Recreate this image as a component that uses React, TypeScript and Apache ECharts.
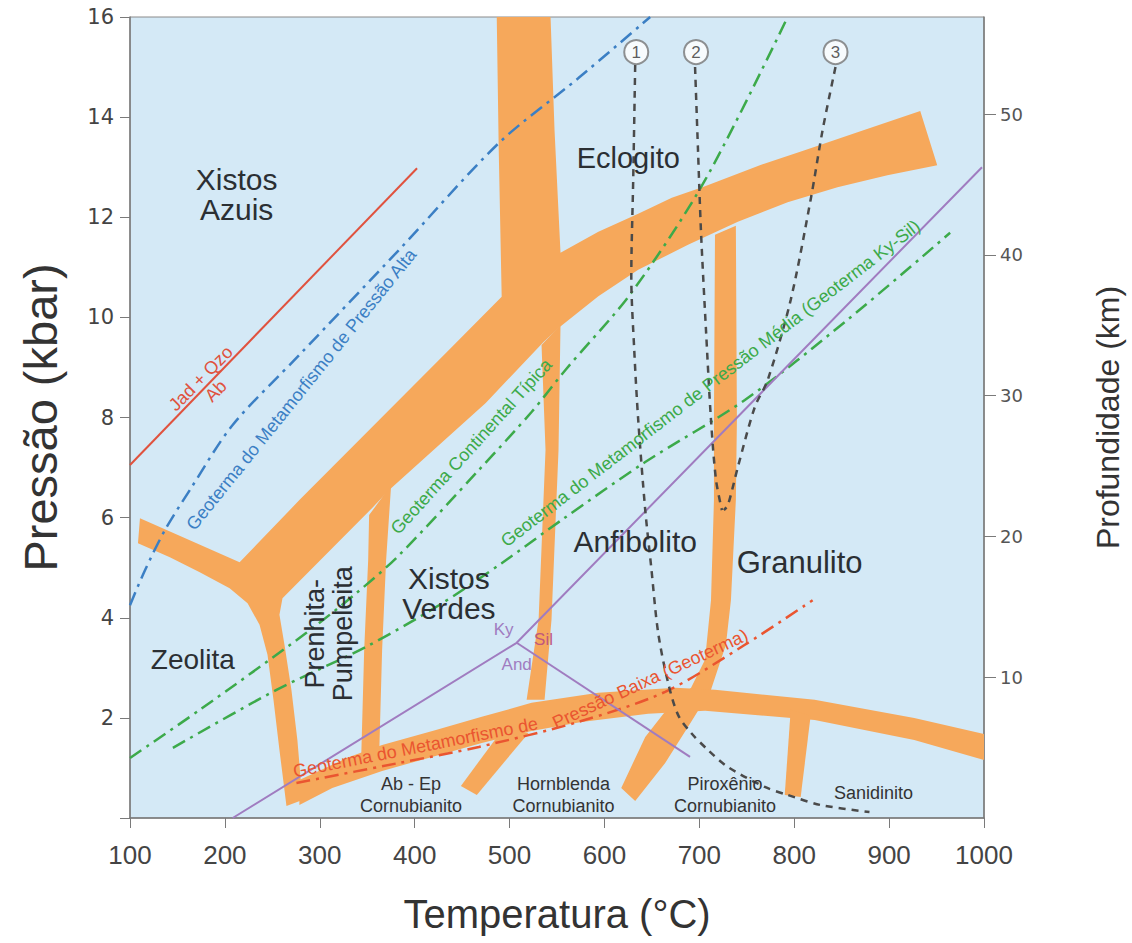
import React, { useEffect, useRef } from "react";
import * as echarts from "echarts";

// ---------- axes ----------
const tempMin = 100;
const tempMax = 1000;
const tempStep = 100;
const pressMin = 0;
const pressMax = 16;
const pressStep = 2;
const depthMax = 56.9;
const depthStep = 10;
const depthTicks = [10, 20, 30, 40, 50];

// ---------- orange facies-boundary bands, [T (°C), P (kbar)] ----------
const mainBand: number[][] = [
  [110.5, 5.99], [215.5, 5.11], [278.5, 6.35], [334.2, 7.41], [439.2, 9.41], [491.7, 10.41],
  [488.6, 13.34], [486.5, 16.0], [543.2, 16.0], [547.4, 13.74], [553.7, 11.29],
  [593.6, 11.71], [635.6, 12.07], [671.0, 12.39], [706.0, 12.62], [763.8, 13.04],
  [811.0, 13.34], [866.7, 13.70], [932.8, 14.12], [950.7, 13.04],
  [898.2, 12.84], [845.6, 12.6], [793.1, 12.3], [740.6, 11.91], [688.1, 11.45],
  [635.6, 10.95], [593.6, 10.42], [551.6, 9.79], [535.8, 9.51],
  [474.9, 8.29], [373.1, 6.55], [355.2, 6.19], [260.7, 4.39],
  [257.5, 4.06], [262.8, 3.46], [270.1, 2.56], [276.4, 1.56], [281.7, 0.36],
  [264.9, 0.24], [257.5, 1.36], [251.2, 2.36], [244.9, 3.26], [236.5, 3.86],
  [223.9, 4.29], [205.0, 4.59], [173.5, 4.91], [142.0, 5.21], [108.4, 5.49],
];
const pumpellyiteBand: number[][] = [
  [352.0, 6.05], [375.2, 6.65], [369.9, 5.15], [365.7, 3.36], [362.6, 1.26],
  [343.6, 1.16], [346.8, 3.36], [351.0, 5.15],
];
const amphiboliteBand: number[][] = [
  [533.7, 9.45], [553.7, 9.85], [551.6, 7.35], [544.2, 3.96], [536.9, 2.36],
  [518.0, 2.36], [530.6, 3.96], [537.9, 7.35],
];
const granuliteBand: number[][] = [
  [716.5, 11.65], [715.4, 7.95], [715.4, 6.35], [712.3, 4.35], [706.0, 3.16],
  [691.3, 2.6], [667.1, 2.2], [643.0, 1.62], [617.7, 0.6], [632.4, 0.34],
  [664.0, 1.1], [691.3, 1.92], [712.3, 2.56], [728.0, 3.46], [733.3, 4.35],
  [738.5, 6.35], [739.6, 7.95], [738.5, 11.83],
];
const contactBand: number[][] = [
  [278.5, 0.76], [331.0, 1.22], [365.7, 1.46], [422.4, 1.76], [470.7, 2.02],
  [523.2, 2.3], [593.6, 2.5], [674.5, 2.6], [716.5, 2.56], [821.5, 2.36],
  [926.5, 2.0], [1000, 1.68], [1000, 1.16], [926.5, 1.56], [821.5, 1.96],
  [706.0, 2.14], [646.1, 2.08], [575.7, 1.92], [523.2, 1.74], [470.7, 1.5],
  [418.2, 1.22], [365.7, 0.94], [313.2, 0.6], [278.5, 0.26],
];
const hornblendeBranch: number[][] = [
  [493.8, 1.8], [520.1, 1.7], [465.5, 0.46], [448.7, 0.64],
];
const sanidiniteBranch: number[][] = [
  [796.3, 2.16], [817.3, 2.04], [806.8, 0.42], [790.0, 0.46],
];

// ---------- reaction lines and geotherms ----------
const jadeiteLine: number[][] = [[100, 7.05], [402.5, 12.98]];
const highPGeotherm: number[][] = [
  [100, 4.25], [115.8, 4.95], [136.8, 5.75], [163.0, 6.55], [208.2, 7.85],
  [278.5, 9.25], [383.6, 11.35], [488.6, 13.48], [572.6, 14.78], [648.2, 16.0],
];
const continentalGeotherm: number[][] = [
  [100, 1.2], [173.5, 2.16], [285.9, 3.7], [338.4, 4.49], [383.6, 5.25],
  [467.6, 6.95], [523.2, 8.11], [558.9, 8.95], [628.3, 10.49], [706.0, 12.74], [793.1, 16.0],
];
const mediumPGeotherm: number[][] = [
  [145.2, 1.4], [254.4, 2.56], [348.9, 3.42], [425.6, 4.25], [491.7, 5.09],
  [554.7, 5.95], [643.0, 7.11], [748.0, 8.35], [856.1, 9.95], [964.3, 11.69],
];
const lowPGeotherm: number[][] = [
  [275.4, 0.7], [383.6, 1.1], [467.6, 1.42], [572.6, 1.92], [664.0, 2.52],
  [748.0, 3.46], [819.4, 4.35],
];
const kyaniteSillimanite: number[][] = [[208.2, 0], [507.5, 3.5], [997.9, 13.0]];
const andalusiteSillimanite: number[][] = [[507.5, 3.5], [690.2, 1.22]];
const curve1: number[][] = [
  [632.4, 15.04], [630.3, 12.74], [628.3, 10.81], [631.4, 9.35], [635.6, 7.95],
  [643.0, 6.15], [649.3, 5.01], [656.6, 3.7], [667.1, 2.7], [677.6, 2.06],
  [691.3, 1.7], [709.1, 1.36], [730.1, 1.02], [769.0, 0.62], [793.1, 0.46],
  [827.8, 0.26], [879.3, 0.12],
];
const curve2: number[][] = [
  [695.5, 15.0], [698.6, 13.34], [701.8, 11.69], [707.0, 9.75], [712.3, 7.95],
  [717.6, 6.75], [723.8, 6.15],
];
const curve3: number[][] = [
  [843.5, 15.0], [829.9, 13.74], [817.3, 12.35], [796.3, 10.35], [772.1, 8.75],
  [758.5, 8.21], [740.6, 7.01], [730.1, 6.25], [725.9, 6.15],
];
const curveMarkers: (number | string)[][] = [
  [633.5, 15.3, "1"], [696.5, 15.3, "2"], [843.5, 15.3, "3"],
];

// ---------- texts (anchors in data space) ----------
const faciesLabels: [string, number, number][] = [
  ["Xistos\nAzuis", 212.4, 12.45],
  ["Eclogito", 625.1, 13.18],
  ["Anfibolito", 632.4, 5.53],
  ["Granulito", 805.7, 5.11],
  ["Xistos\nVerdes", 436.1, 4.49],
  ["Zeolita", 166.2, 3.16],
];
const faciesLabelSizes = [30, 29, 30, 31, 30, 28];
const verticalLabels: [string, number, number][] = [["Prenhita-\nPumpeleita", 310, 3.68]];
const contactLabels: [string, number, number][] = [
  ["Ab - Ep\nCornubianito", 396.2, 0.46],
  ["Hornblenda\nCornubianito", 556.8, 0.46],
  ["Piroxênio\nCornubianito", 727.0, 0.46],
  ["Sanidinito", 883.5, 0.5],
];
const mineralLabels: [string, number, number][] = [
  ["Ky", 493.8, 3.76],
  ["Sil", 535.8, 3.56],
  ["And", 507.5, 3.06],
];
// [text, T start, P start, T end, P end]
const lineLabels: [string, number, number, number, number][] = [
  ["Jad + Qzo", 142.0, 8.15, 207.1, 9.41],
  ["Ab", 179.8, 8.33, 200.8, 8.73],
  ["Geoterma do Metamorfismo de Pressão Alta", 154.6, 5.59, 406.6, 11.53],
  ["Geoterma Continental Típica", 372.0, 5.59, 547.4, 9.25],
  ["Geoterma do Metamorfismo de Pressão Média (Geoterma Ky-Sil)", 487.5, 5.41, 936.0, 11.95],
  ["Geoterma do Metamorfismo de", 264.9, 0.9, 536.9, 1.92],
  ["Pressão Baixa (Geoterma)", 543.2, 1.86, 753.2, 3.7],
];

// ---------- styles ----------
const ORANGE = "#f6a85b";
const BG = "#d4e9f6";
const RED = "#e0523e";
const BLUE = "#3b7fc4";
const GREEN = "#3caa4a";
const RED2 = "#ea5530";
const PURPLE = "#a07cc0";
const DARK = "#4a4a4a";
const TEXT = "#2b2f33";
const FONT = "'Liberation Sans', Arial, sans-serif";
const lineLabelColors = [RED, RED, BLUE, GREEN, GREEN, RED2, RED2];
const mineralColors = [PURPLE, "#c0587e", PURPLE];
const DASHDOT = [14, 6, 3, 6];

export default function App() {
  const ref = useRef<HTMLDivElement>(null);
  useEffect(() => {
    if (!ref.current) return;
    const chart = echarts.init(ref.current, undefined, { renderer: "svg" });
    const bands = [mainBand, pumpellyiteBand, amphiboliteBand, granuliteBand, contactBand, hornblendeBranch, sanidiniteBranch];

    const line = (data: number[][], color: string, width: number, type: any, smooth: number | boolean = false) => ({
      type: "line",
      data,
      symbol: "none",
      showSymbol: false,
      smooth,
      silent: true,
      z: 3,
      lineStyle: { color, width, type },
    });

    const textSeries = (
      items: [string, number, number][],
      styleFor: (i: number) => any,
      rotation = 0,
      z = 6
    ) => ({
      type: "custom",
      coordinateSystem: "cartesian2d",
      silent: true,
      z,
      data: items.map((d) => [d[1], d[2]]),
      renderItem: (params: any, api: any) => {
        const d = items[params.dataIndex];
        const p = api.coord([d[1], d[2]]);
        return {
          type: "text",
          x: p[0],
          y: p[1],
          rotation,
          style: Object.assign(
            { text: d[0], align: "center", verticalAlign: "middle", fontFamily: FONT },
            styleFor(params.dataIndex)
          ),
        };
      },
    });

    const option: any = {
      animation: false,
      backgroundColor: "#ffffff",
      grid: {
        left: 130,
        right: 145,
        top: 17,
        bottom: 125,
        show: true,
        backgroundColor: BG,
        borderColor: "#8a8a8a",
        borderWidth: 1,
      },
      xAxis: {
        type: "value",
        min: tempMin,
        max: tempMax,
        interval: tempStep,
        name: "Temperatura (°C)",
        nameLocation: "middle",
        nameGap: 76,
        nameTextStyle: { fontSize: 40, color: "#333", fontFamily: FONT },
        axisLine: { show: true, lineStyle: { color: "#7a7a7a", width: 1.5 } },
        axisTick: { show: true, length: 10, lineStyle: { color: "#7a7a7a" } },
        axisLabel: {
          fontSize: 26,
          color: "#444",
          margin: 24,
          fontFamily: FONT,
          formatter: (v: number) => String(v),
        },
        splitLine: { show: false },
      },
      yAxis: [
        {
          type: "value",
          min: pressMin,
          max: pressMax,
          interval: pressStep,
          name: "Pressão (kbar)",
          nameLocation: "middle",
          nameRotate: 90,
          nameGap: 66,
          nameTextStyle: { fontSize: 47, color: "#333", fontFamily: FONT },
          axisLine: { show: true, lineStyle: { color: "#7a7a7a", width: 1.5 } },
          axisTick: { show: true, length: 10, lineStyle: { color: "#7a7a7a" } },
          axisLabel: {
            fontSize: 21,
            color: "#444",
            margin: 16,
            fontFamily: "'DejaVu Sans', sans-serif",
            formatter: (v: number) => (v === 0 ? "" : String(v)),
          },
          splitLine: { show: false },
        },
        {
          type: "value",
          min: 0,
          max: depthMax,
          interval: depthStep,
          position: "right",
          name: "Profundidade (km)",
          nameLocation: "middle",
          nameRotate: 90,
          nameGap: 108,
          nameTextStyle: { fontSize: 32, color: "#333", fontFamily: FONT },
          axisLine: { show: true, lineStyle: { color: "#7a7a7a", width: 1.5 } },
          axisTick: { show: true, length: 12, customValues: depthTicks, lineStyle: { color: "#7a7a7a" } },
          axisLabel: {
            fontSize: 18,
            color: "#555",
            margin: 16,
            customValues: depthTicks,
            fontFamily: "'DejaVu Sans', sans-serif",
            formatter: (v: number) => (v === 0 || v % 10 !== 0 ? "" : String(v)),
          },
          splitLine: { show: false },
        },
      ],
      series: [
        {
          type: "custom",
          coordinateSystem: "cartesian2d",
          silent: true,
          z: 1,
          data: bands.map((b) => b[0]),
          renderItem: (params: any, api: any) => ({
            type: "polygon",
            shape: { points: bands[params.dataIndex].map((p) => api.coord(p)) },
            style: { fill: ORANGE },
          }),
        },
        line(jadeiteLine, RED, 2),
        line(highPGeotherm, BLUE, 2.5, DASHDOT, 0.3),
        line(continentalGeotherm, GREEN, 2.5, DASHDOT, 0.3),
        line(mediumPGeotherm, GREEN, 2.5, DASHDOT, 0.3),
        line(lowPGeotherm, RED2, 2.5, DASHDOT, 0.3),
        line(kyaniteSillimanite, PURPLE, 2),
        line(andalusiteSillimanite, PURPLE, 2),
        line(curve1, DARK, 2.5, [7, 6], 0.3),
        line(curve2, DARK, 2.5, [7, 6], 0.3),
        line(curve3, DARK, 2.5, [7, 6], 0.3),
        {
          type: "scatter",
          data: curveMarkers,
          symbol: "circle",
          symbolSize: 24,
          z: 7,
          silent: true,
          itemStyle: { color: "#ffffff", borderColor: "#777", borderWidth: 2 },
          label: {
            show: true,
            position: "inside",
            formatter: (p: any) => String(p.value[2]),
            color: "#333",
            fontSize: 17,
            fontFamily: FONT,
          },
        },
        textSeries(faciesLabels, (i) => ({ fontSize: faciesLabelSizes[i], fill: TEXT, lineHeight: 30 })),
        textSeries(verticalLabels, () => ({ fontSize: 27, fill: TEXT, lineHeight: 28 }), Math.PI / 2),
        textSeries(contactLabels, () => ({ fontSize: 18, fill: "#333", lineHeight: 22 })),
        textSeries(mineralLabels, (i) => ({ fontSize: 17, fill: mineralColors[i] })),
        {
          type: "custom",
          coordinateSystem: "cartesian2d",
          silent: true,
          z: 6,
          data: lineLabels.map((l) => [l[1], l[2]]),
          renderItem: (params: any, api: any) => {
            const l = lineLabels[params.dataIndex];
            const a = api.coord([l[1], l[2]]);
            const b = api.coord([l[3], l[4]]);
            const rot = Math.atan2(-(b[1] - a[1]), b[0] - a[0]);
            return {
              type: "text",
              x: (a[0] + b[0]) / 2,
              y: (a[1] + b[1]) / 2,
              rotation: rot,
              style: {
                text: l[0],
                fill: lineLabelColors[params.dataIndex],
                fontSize: 18,
                fontFamily: FONT,
                align: "center",
                verticalAlign: "middle",
              },
            };
          },
        },
      ],
    };
    chart.setOption(option);
    return () => chart.dispose();
  }, []);

  return (
    <div
      ref={ref}
      style={{ position: "fixed", left: 0, top: 0, width: 1132, height: 943, background: "#fff" }}
    />
  );
}
